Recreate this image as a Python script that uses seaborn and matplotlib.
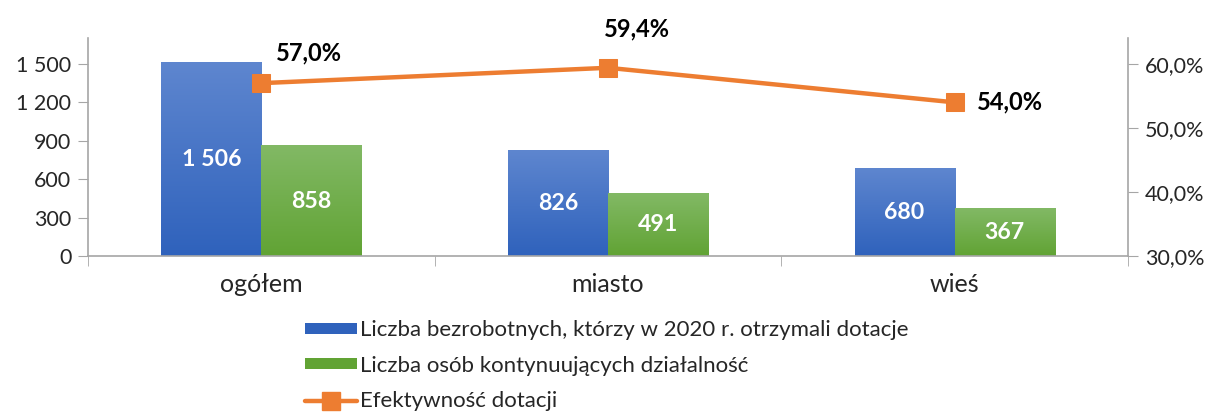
import numpy as np
import pandas as pd
import matplotlib
matplotlib.use("Agg")
import matplotlib.pyplot as plt
import seaborn as sns
from matplotlib.ticker import FuncFormatter, FixedLocator
from matplotlib.colors import LinearSegmentedColormap
from matplotlib.patches import Patch
from matplotlib.lines import Line2D

# data
categories = ["ogółem", "miasto", "wieś"]
bezrobotni = [1506, 826, 680]
kontynuujacy = [858, 491, 367]
efektywnosc = [57.0, 59.4, 54.0]
series_names = ["Liczba bezrobotnych, którzy w 2020 r. otrzymali dotacje",
                "Liczba osób kontynuujących działalność"]
line_name = "Efektywność dotacji"

sns.set_style("white")
plt.rcParams['font.family'] = ['Lato', 'DejaVu Sans']

df = pd.DataFrame({
    "kat": categories * 2,
    "val": bezrobotni + kontynuujacy,
    "seria": [series_names[0]] * 3 + [series_names[1]] * 3,
})

fig = plt.figure(figsize=(12.1, 4.17), dpi=100)
ax = fig.add_axes([0.0727, 0.386, 0.8595, 0.523])

blue = ["#2F62BC", "#5E86CF"]
green = ["#61A334", "#82B965"]

sns.barplot(data=df, x="kat", y="val", hue="seria", order=categories,
            hue_order=series_names, palette=[blue[0], green[0]],
            width=0.577, gap=0, dodge=True, ax=ax, legend=False,
            errorbar=None, saturation=1)

# gradient fill for the bars (first three patches = blue series)
grad = np.linspace(0, 1, 256).reshape(-1, 1)
for k, patch in enumerate(list(ax.patches)):
    x0, y0 = patch.get_x(), patch.get_y()
    w, h = patch.get_width(), patch.get_height()
    cols = blue if k < 3 else green
    cmap = LinearSegmentedColormap.from_list("g", cols)
    ax.imshow(grad, extent=(x0, x0 + w, y0, y0 + h), origin="lower",
              cmap=cmap, aspect="auto", zorder=2)
    patch.set_visible(False)
    ax.text(x0 + w / 2, h / 2, f"{int(h):,}".replace(",", " "),
            ha="center", va="center", color="white", fontsize=16.7,
            fontweight="bold", zorder=5)
ax.set_xlim(-0.5, 2.5)
ax.set_ylim(0, 1700)

gray = "#A6A6A6"
ax.set_yticks([0, 300, 600, 900, 1200, 1500])
ax.yaxis.set_major_formatter(FuncFormatter(lambda v, p: f"{int(v):,}".replace(",", " ")))
ax.tick_params(axis="y", length=7, color=gray, labelsize=15.5, pad=5, direction="out", left=True)
ax.xaxis.set_minor_locator(FixedLocator([-0.5, 0.5, 1.5, 2.5]))
ax.tick_params(axis="x", which="major", length=0, labelsize=18, pad=12)
ax.tick_params(axis="x", which="minor", length=7, color=gray, direction="out", bottom=True)
ax.set_xlabel("")
ax.set_ylabel("")
for s in ["top", "right"]:
    ax.spines[s].set_visible(False)
for s in ["left", "bottom"]:
    ax.spines[s].set_color(gray)
    ax.spines[s].set_linewidth(1.2)

# line on secondary axis
ax2 = ax.twinx()
orange = "#ED7D31"
sns.lineplot(x=[0, 1, 2], y=efektywnosc, ax=ax2, color=orange, linewidth=3.2,
             marker="s", markersize=13, markeredgecolor=orange, zorder=6)
ax2.set_ylim(30, 64.06)
ax2.set_xlim(-0.5, 2.5)
ax2.set_yticks([30, 40, 50, 60])
ax2.yaxis.set_major_formatter(FuncFormatter(lambda v, p: f"{v:.1f}%".replace(".", ",")))
ax2.tick_params(axis="y", length=7, color=gray, labelsize=15.5, pad=5, direction="out", right=True)
for s in ["top", "left", "bottom"]:
    ax2.spines[s].set_visible(False)
ax2.spines["right"].set_color(gray)
ax2.spines["right"].set_linewidth(1.2)

offsets = [(48, 30), (29, 39), (55, 0)]
for i, (v, off) in enumerate(zip(efektywnosc, offsets)):
    ax2.annotate(f"{v:.1f}%".replace(".", ","), (i, v), xytext=off,
                 textcoords="offset pixels", ha="center", va="center",
                 fontsize=17, fontweight="bold", color="black")

handles = [Patch(facecolor=blue[0], edgecolor="none"),
           Patch(facecolor=green[0], edgecolor="none"),
           Line2D([], [], color=orange, linewidth=3.2, marker="s", markersize=13)]
fig.legend(handles, series_names + [line_name], loc="upper left",
           bbox_to_anchor=(0.252, 0.232), frameon=False, fontsize=16,
           handlelength=2.35, handleheight=0.4, handletextpad=0.15,
           labelspacing=0.70, borderaxespad=0, borderpad=0)

fig.savefig("out.png", dpi=100)
